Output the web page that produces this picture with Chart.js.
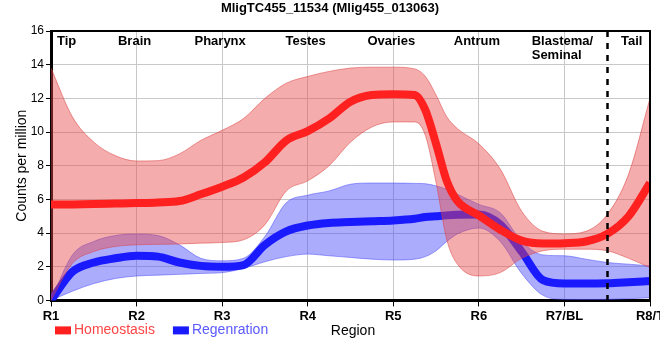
<!DOCTYPE html>
<html><head><meta charset="utf-8">
<script src="https://cdn.jsdelivr.net/npm/chart.js@4.4.1/dist/chart.umd.min.js"></script>
<style>html,body{margin:0;padding:0;overflow:hidden;background:#fff}</style>
</head><body>
<canvas id="c" width="680" height="360" style="width:680px;height:360px;display:block"></canvas>
<script>
const chartTitle = 'MligTC455_11534 (Mlig455_013063)';
const tickLabels = ['R1','R2','R3','R4','R5','R6','R7/BL','R8/T'];
const regionNames = ['Tip','Brain','Pharynx','Testes','Ovaries','Antrum','Blastema/\nSeminal','Tail'];
const seriesNames = ['Homeostasis','Regenration'];
// sample positions along the region axis (0 = R1 ... 7 = R8/T)
const positions = [0,0.25,0.5,0.75,1,1.25,1.5,1.75,2,2.25,2.5,2.75,3,3.25,3.5,3.75,4,4.25,4.375,4.5,4.625,4.75,5,5.25,5.5,5.75,6,6.25,6.5,6.75,7];
const homeoMean  = [5.69,5.70,5.72,5.75,5.78,5.82,5.90,6.30,6.75,7.30,8.20,9.50,10.05,10.80,11.80,12.20,12.25,12.20,11.30,9.30,7.10,5.90,5.05,4.20,3.55,3.38,3.40,3.50,3.95,5.00,6.97];
const homeoUpper = [13.8,10.9,9.4,8.6,8.28,8.3,8.7,9.5,10.1,10.8,12.0,12.9,13.3,13.6,13.8,13.85,13.85,13.75,13.3,12.2,10.9,10.2,9.3,7.8,5.3,4.1,3.95,4.1,5.1,7.5,12.0];
const homeoLower = [0,2.2,2.9,3.2,3.3,3.33,3.35,3.4,3.44,3.6,4.5,6.5,7.1,8.0,9.4,10.3,10.6,10.6,9.8,7.0,3.6,2.15,1.45,1.65,2.5,2.95,3.04,3.04,2.95,2.5,1.95];
const regenMean  = [0,1.7,2.25,2.5,2.65,2.6,2.25,2.05,2.0,2.1,3.3,4.1,4.45,4.6,4.65,4.7,4.75,4.85,4.95,5.0,5.05,5.08,5.1,4.5,2.9,1.2,1.0,1.0,1.02,1.08,1.15];
const regenUpper = [0,2.7,3.5,3.85,3.94,3.85,3.3,2.5,2.35,2.5,3.8,5.8,6.25,6.5,6.9,6.97,6.97,6.95,6.93,6.8,6.6,6.3,5.7,5.2,3.5,2.7,2.65,2.45,2.25,2.15,2.05];
const regenLower = [0,0.55,1.0,1.3,1.45,1.5,1.55,1.6,1.65,1.9,2.3,2.6,2.75,2.65,2.55,2.45,2.4,2.45,2.6,2.95,3.5,3.95,4.3,3.5,1.6,0.3,0.06,0.05,0.06,0.1,0.16];
const dividerPos = 6.5;

const pts = arr => arr.map((v,i)=>({x:positions[i], y:v}));
const RED='#ff2020', BLUE='#1a1aff';
const redFill='rgba(230,70,70,0.45)', blueFill='rgba(70,70,250,0.45)';

const narrow = '"Liberation Sans Narrow", "Liberation Sans", Arial, sans-serif';
const sans = '"Liberation Sans", Arial, sans-serif';

const decor = {
  id:'decor',
  afterDraw(chart){
    const {ctx, chartArea:a, scales:{x,y}} = chart;
    ctx.save();
    // frame top/right
    ctx.strokeStyle='#000'; ctx.lineWidth=2;
    ctx.beginPath(); ctx.moveTo(a.left,a.top); ctx.lineTo(a.right,a.top); ctx.lineTo(a.right,a.bottom); ctx.stroke();
    // divider
    const dx = Math.round(x.getPixelForValue(dividerPos))+0.5;
    ctx.setLineDash([6,6]); ctx.lineWidth=2.5;
    ctx.beginPath(); ctx.moveTo(dx,a.top); ctx.lineTo(dx,a.bottom+6); ctx.stroke();
    ctx.setLineDash([]);
    // region names
    ctx.fillStyle='#000'; ctx.font='bold 13px '+sans; ctx.textBaseline='middle';
    regionNames.forEach((name,i)=>{
      const lines = name.split('\n');
      let cx;
      if(i===0){ ctx.textAlign='left'; lines.forEach((l,k)=>ctx.fillText(l,a.left+6,a.top+10+k*14)); return; }
      if(i===regionNames.length-1){ cx=(dx+a.right)/2+3; }
      else cx = x.getPixelForValue(i)-2;
      const w = Math.max(...lines.map(l=>ctx.measureText(l).width));
      ctx.textAlign='left';
      lines.forEach((l,k)=>ctx.fillText(l,cx-w/2,a.top+10+k*14));
    });
    // legend
    const ly = a.bottom + 30;
    ctx.font='14px '+narrow; ctx.textAlign='left'; ctx.textBaseline='middle';
    let lx = a.left + 4;
    [[seriesNames[0],RED,'#ff4545'],[seriesNames[1],BLUE,'#5a5aff']].forEach(([t,c,tc])=>{
      ctx.fillStyle=c; ctx.fillRect(lx, ly-4, 16, 8);
      ctx.fillStyle=tc; ctx.fillText(t, lx+19, ly);
      lx += 19 + ctx.measureText(t).width + 18;
    });
    // x axis title
    ctx.fillStyle='#000'; ctx.textAlign='center';
    ctx.fillText('Region', 353, ly+1);
    ctx.restore();
  }
};

new Chart(document.getElementById('c'), {
  type:'line',
  data:{datasets:[
    {label:seriesNames[0], data:pts(homeoMean), borderColor:RED, backgroundColor:RED, borderWidth:8, fill:false},
    {label:'h_up', data:pts(homeoUpper), borderColor:'rgba(220,60,60,0.5)', borderWidth:1, backgroundColor:redFill, fill:'+1'},
    {label:'h_lo', data:pts(homeoLower), borderColor:'rgba(220,60,60,0.5)', borderWidth:1, fill:false},
    {label:seriesNames[1], data:pts(regenMean), borderColor:BLUE, backgroundColor:BLUE, borderWidth:8, fill:false},
    {label:'r_up', data:pts(regenUpper), borderColor:'rgba(70,70,250,0.5)', borderWidth:1, backgroundColor:blueFill, fill:'+1'},
    {label:'r_lo', data:pts(regenLower), borderColor:'rgba(70,70,250,0.5)', borderWidth:1, fill:false}
  ]},
  options:{
    responsive:false, animation:false,
    layout:{padding:{top:31,left:13,right:30,bottom:34}},
    elements:{point:{radius:0}, line:{cubicInterpolationMode:'monotone', borderCapStyle:'butt'}},
    plugins:{
      title:{display:false},
      tooltip:{enabled:false},
      legend:{display:false}
    },
    scales:{
      x:{type:'linear', min:0, max:7,
        grid:{color:'#c8c8c8', tickLength:6, tickColor:'#000'},
        border:{color:'#000', width:3},
        ticks:{stepSize:1, autoSkip:false, maxRotation:0, padding:2, color:'#000', font:{family:narrow,size:13,weight:'bold'},
          callback:(v)=>tickLabels[v]}
      },
      y:{min:0, max:16,
        grid:{color:'#c8c8c8', tickLength:5, tickColor:'#000'},
        border:{color:'#000', width:3},
        ticks:{stepSize:2, padding:2, color:'#000', font:{family:sans,size:12}},
        title:{display:true, text:'Counts per million', color:'#000', font:{family:sans,size:14}, padding:{top:1,bottom:4}},
        afterFit:(s)=>{s.width=38;}
      }
    }
  },
  plugins:[decor, {
    id:'mainTitle',
    afterDraw(chart){const c=chart.ctx; c.save(); c.font='bold 13px '+narrow; c.fillStyle='#000'; c.textAlign='center'; c.textBaseline='middle'; c.fillText(chartTitle,330,8); c.restore();}
  }]
});
</script>
</body></html>
